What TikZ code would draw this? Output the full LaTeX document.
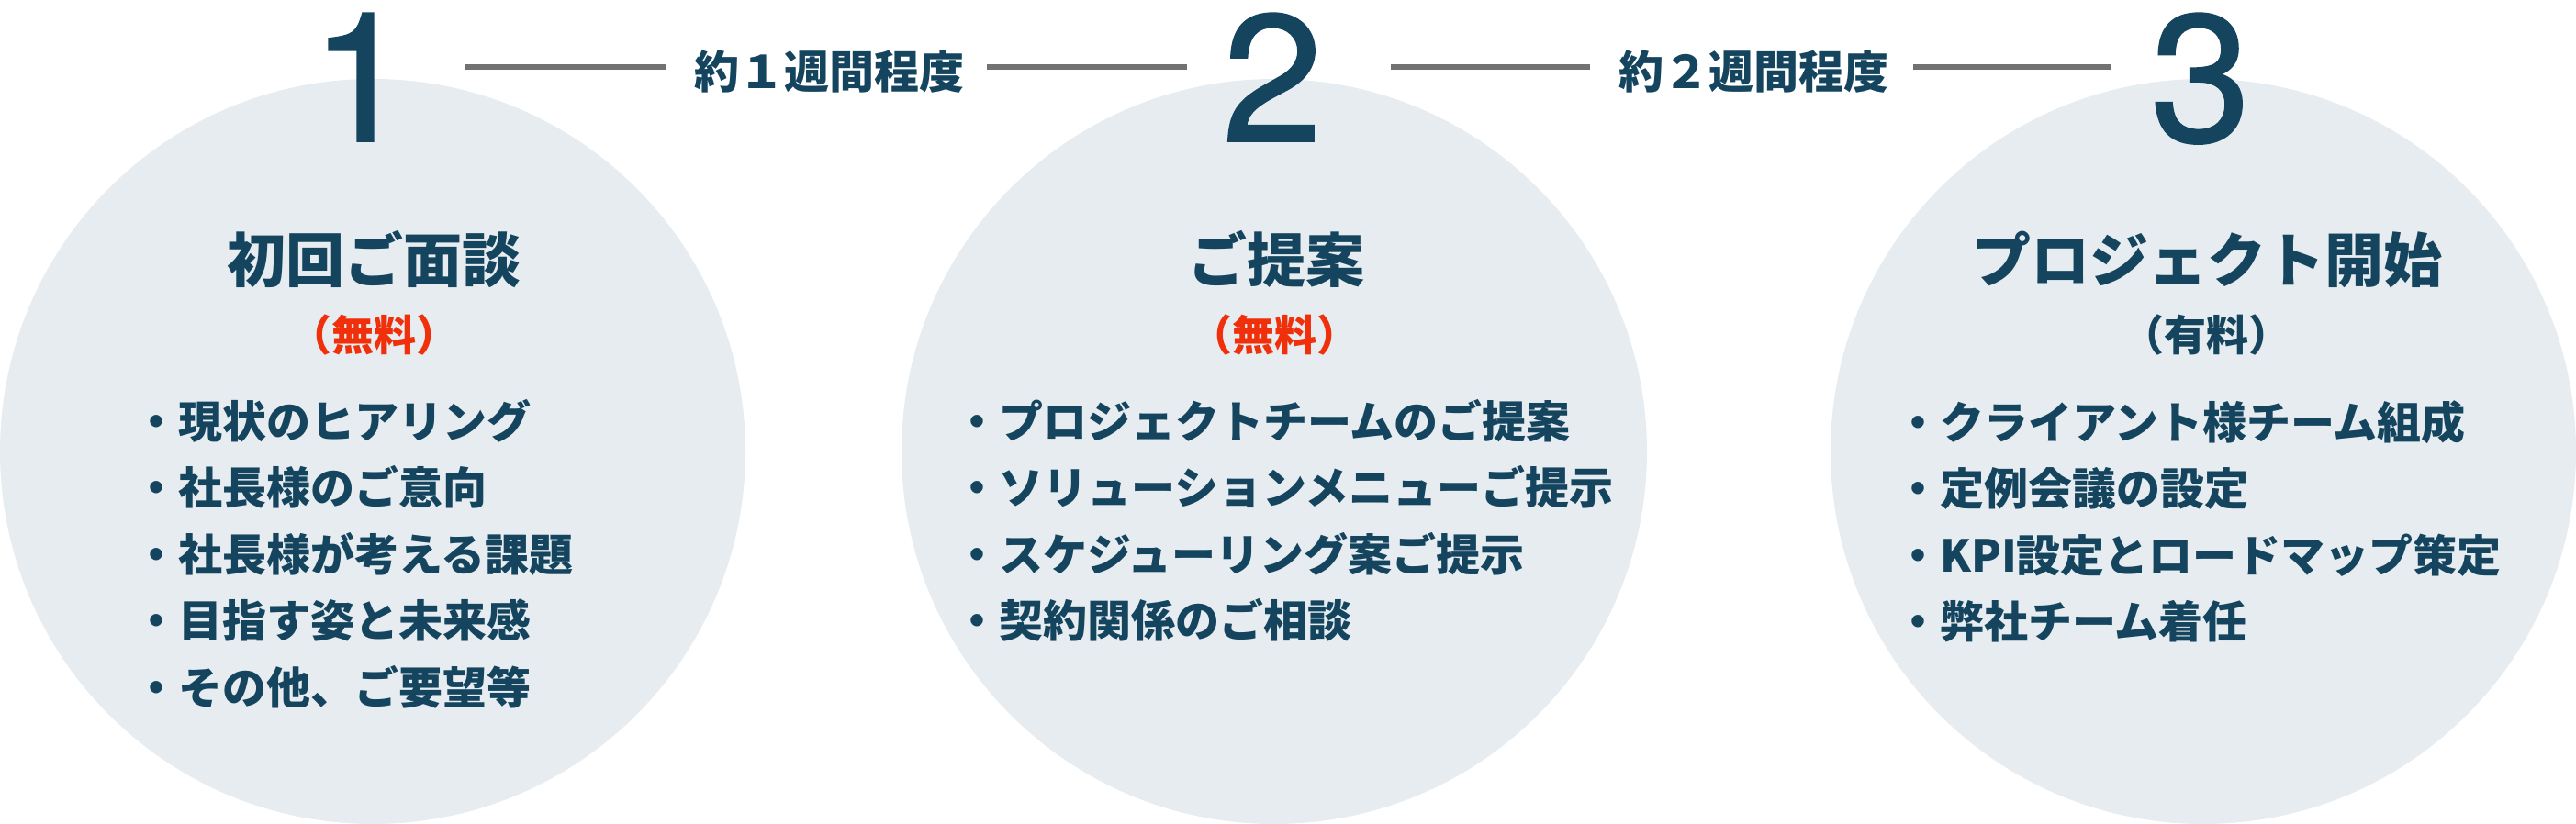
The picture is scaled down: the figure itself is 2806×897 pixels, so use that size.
\documentclass[tikz,border=0pt]{standalone}
\usepackage{fontspec}
\newfontfamily\jp{Noto Sans CJK JP}
\newfontfamily\numf{TeX Gyre Heros}[FakeBold=1]
\definecolor{tealtxt}{HTML}{15455E}
\definecolor{redtxt}{HTML}{F0300A}
\definecolor{circfill}{HTML}{E6ECEF}
\definecolor{linegray}{HTML}{727272}
\begin{document}
\begin{tikzpicture}[x=1pt,y=-1pt,
  circ/.style={circle, fill=circfill, draw=none, minimum size=812pt, inner sep=0pt},
  num/.style={font=\numf\fontsize{197}{197}\selectfont, text=tealtxt, anchor=base, inner sep=0pt},
  ttl/.style={font=\jp\bfseries\fontsize{64}{64}\selectfont, text=tealtxt, anchor=base, inner sep=0pt},
  sub/.style={font=\jp\bfseries\fontsize{46}{46}\selectfont, anchor=base, inner sep=0pt},
  item/.style={font=\jp\bfseries\fontsize{48}{48}\selectfont, text=tealtxt, anchor=base west, inner sep=0pt},
  week/.style={font=\jp\bfseries\fontsize{49}{49}\selectfont, text=tealtxt, anchor=base, inner sep=0pt},
  conn/.style={draw=linegray, line width=6pt}]
\useasboundingbox (0,0) rectangle (2806,897);
% circles
\node[circ] (c1) at (406,492) {};
\node[circ] (c2) at (1388,492) {};
\node[circ] (c3) at (2400,492) {};
% numbers
\node[num] (n1) at (393,154) {1};
\node[num] (n2) at (1386,154) {2};
\node[num] (n3) at (2397,154) {3};
% week labels and connectors
\node[week] (w1) at (903,96) {約１週間程度};
\node[week] (w2) at (1910,96) {約２週間程度};
\coordinate (l1a) at (507,73); \coordinate (l1b) at (725,73);
\coordinate (l2a) at (1075,73); \coordinate (l2b) at (1293,73);
\coordinate (l3a) at (1515,73); \coordinate (l3b) at (1732,73);
\coordinate (l4a) at (2084,73); \coordinate (l4b) at (2300,73);
\draw[conn] (l1a) -- (l1b);
\draw[conn] (l2a) -- (l2b);
\draw[conn] (l3a) -- (l3b);
\draw[conn] (l4a) -- (l4b);
% titles
\node[ttl] (t1) at (407,307) {初回ご面談};
\node[ttl] (t2) at (1390,307) {ご提案};
\node[ttl] (t3) at (2404,307) {プロジェクト開始};
\node[sub, text=redtxt] (s1) at (407,382) {（無料）};
\node[sub, text=redtxt] (s2) at (1388,382) {（無料）};
\node[sub, text=tealtxt] (s3) at (2403,382) {（有料）};
% items circle 1
\node[item] (a1) at (146,477) {・現状のヒアリング};
\node[item] (a2) at (146,549.5) {・社長様のご意向};
\node[item] (a3) at (146,622) {・社長様が考える課題};
\node[item] (a4) at (146,694.5) {・目指す姿と未来感};
\node[item] (a5) at (146,767) {・その他、ご要望等};
% items circle 2
\node[item] (b1) at (1040,477) {・プロジェクトチームのご提案};
\node[item] (b2) at (1040,549.5) {・ソリューションメニューご提示};
\node[item] (b3) at (1040,622) {・スケジューリング案ご提示};
\node[item] (b4) at (1040,694.5) {・契約関係のご相談};
% items circle 3
\node[item] (d1) at (2065,478) {・クライアント様チーム組成};
\node[item] (d2) at (2065,550.5) {・定例会議の設定};
\node[item] (d3) at (2065,623) {・KPI設定とロードマップ策定};
\node[item] (d4) at (2065,695.5) {・弊社チーム着任};
\end{tikzpicture}
\end{document}
